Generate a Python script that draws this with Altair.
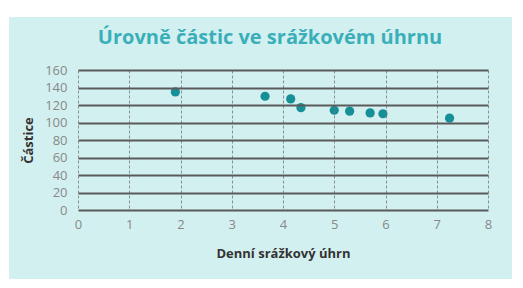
import altair as alt
import pandas as pd

rain = [1.9, 3.65, 4.15, 4.35, 5.0, 5.3, 5.7, 5.95, 7.25]
particles = [135, 130, 127, 117, 114, 113, 111, 110, 105]

df = pd.DataFrame({"rain": rain, "particles": particles})

FONT = "Open Sans"

bg = alt.Chart(pd.DataFrame({"a": [0]})).mark_rect(color="#d3f0f0").encode(
    x=alt.value(-69), x2=alt.value(434), y=alt.value(-53), y2=alt.value(209)
)

points = alt.Chart(df).mark_circle(size=85, opacity=1, color="#178f96").encode(
    x=alt.X("rain:Q", scale=alt.Scale(domain=[0, 8], nice=False),
            axis=alt.Axis(title="Denní srážkový úhrn", values=list(range(0, 9)),
                          grid=True, gridDash=[3, 2], gridColor="#777", gridWidth=0.8,
                          domain=False, ticks=False, labelPadding=8, labelFlush=False,
                          labelFont=FONT, labelFontSize=13, labelColor="#888",
                          titleFont=FONT, titleFontSize=13, titleFontWeight="bold",
                          titleColor="#333", titlePadding=16, zindex=1)),
    y=alt.Y("particles:Q", scale=alt.Scale(domain=[0, 160], nice=False),
            axis=alt.Axis(title="Částice", values=list(range(0, 161, 20)),
                          grid=True, gridColor="#5a5a5a", gridWidth=2,
                          domain=False, ticks=False, labelPadding=11, labelFlush=False,
                          labelFont=FONT, labelFontSize=13, labelColor="#888",
                          titleFont=FONT, titleFontSize=13, titleFontWeight="bold",
                          titleColor="#333", titlePadding=9, zindex=1)),
)

chart = alt.layer(bg, points).properties(
    width=410, height=140,
    autosize=alt.AutoSizeParams(type="none"),
    padding={"left": 78, "top": 70, "right": 35, "bottom": 78},
    background="white",
    title=alt.TitleParams("Úrovně částic ve srážkovém úhrnu", font=FONT, fontSize=20,
                          fontWeight="bold", color="#3aafb9", anchor="middle",
                          frame="group", dx=-13, dy=31, offset=0),
).configure_view(stroke=None)

chart.save("out.html", embed_options={"renderer": "svg", "actions": False})
